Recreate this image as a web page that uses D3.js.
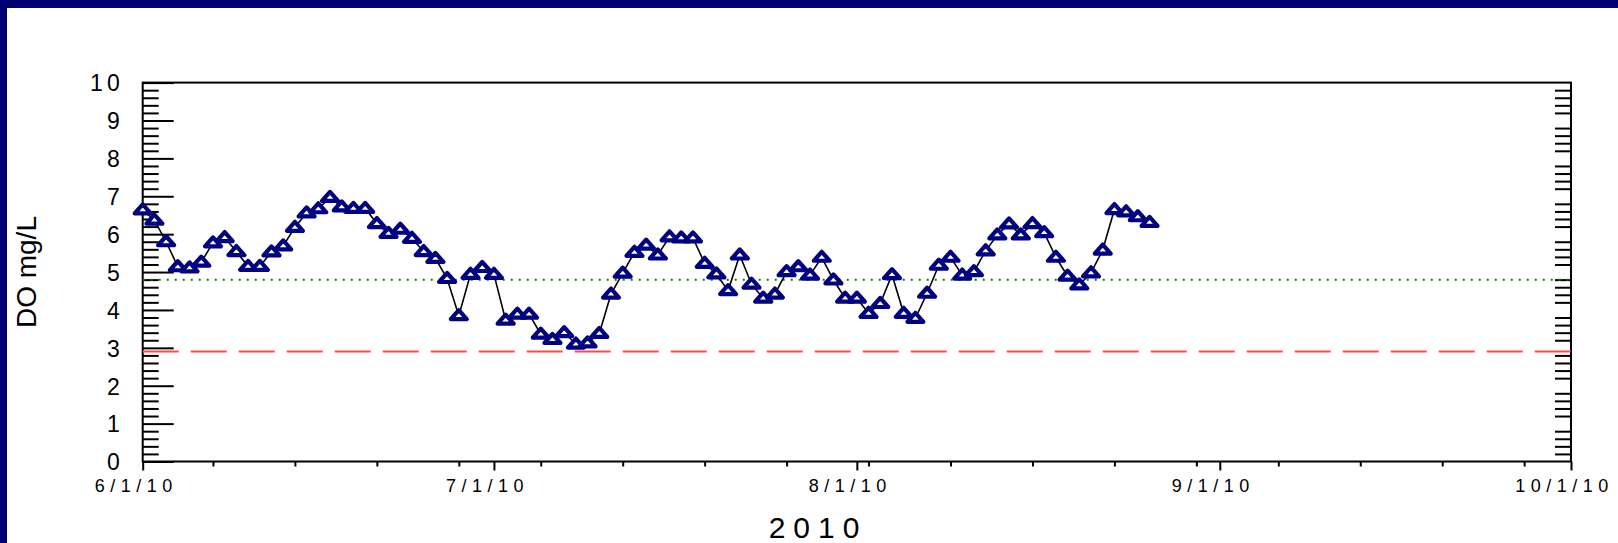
<!DOCTYPE html>
<html>
<head>
<meta charset="utf-8">
<script src="https://cdn.jsdelivr.net/npm/d3@7"></script>
<style>
  html, body { margin: 0; padding: 0; background: #fff; }
  svg { display: block; font-family: "Liberation Sans", Arial, sans-serif; }
</style>
</head>
<body>
<div id="chart"></div>
<script>
// Daily DO readings, 6/1/10 through 8/26/10
const startDate = new Date(Date.UTC(2010, 5, 1));
const endDate = new Date(Date.UTC(2010, 9, 1));
const juneDO = [6.64, 6.37, 5.80, 5.14, 5.11, 5.26, 5.77, 5.91, 5.54, 5.15,
                5.15, 5.53, 5.69, 6.18, 6.56, 6.67, 6.97, 6.72, 6.68, 6.68,
                6.28, 6.02, 6.13, 5.89, 5.54, 5.36, 4.83, 3.85, 4.94, 5.12];
const julyDO = [4.94, 3.73, 3.89, 3.89, 3.36, 3.22, 3.40, 3.10, 3.13, 3.38,
                4.42, 4.97, 5.52, 5.71, 5.45, 5.93, 5.90, 5.90, 5.23, 4.95,
                4.51, 5.45, 4.68, 4.31, 4.42, 5.01, 5.14, 4.92, 5.39, 4.79, 4.31];
const augDO = [4.31, 3.91, 4.17, 4.93, 3.91, 3.78, 4.44, 5.18, 5.39, 4.92,
               5.01, 5.56, 5.98, 6.27, 5.98, 6.28, 6.04, 5.39, 4.89, 4.66,
               4.98, 5.58, 6.65, 6.59, 6.46, 6.31];

// Reference lines
const targetDO = 4.8;   // green dotted
const minimumDO = 2.9;  // red dashed

const yTicks = [0, 1, 2, 3, 4, 5, 6, 7, 8, 9, 10];
const monthTicks = ["2010-06-01", "2010-07-01", "2010-08-01", "2010-09-01", "2010-10-01"];

const values = juneDO.concat(julyDO, augDO);
const dates = d3.utcDay.range(startDate, d3.utcDay.offset(startDate, values.length));
const data = values.map((v, i) => ({ date: dates[i], value: v }));

const W = 1618, H = 543;
const margin = { top: 82.6, right: 47, bottom: 81.5, left: 142.7 };
const width = W - margin.left - margin.right;
const height = H - margin.top - margin.bottom;

const root = d3.select("#chart").append("svg")
    .attr("width", W)
    .attr("height", H);

// navy frame on top and left
root.append("rect").attr("x", 0).attr("y", 0).attr("width", W).attr("height", 8).attr("fill", "#000070");
root.append("rect").attr("x", 0).attr("y", 0).attr("width", 7).attr("height", H).attr("fill", "#000070");

const svg = root.append("g")
    .attr("transform", `translate(${margin.left},${margin.top})`);

const x = d3.scaleUtc().domain([startDate, endDate]).range([0, width]);
const y = d3.scaleLinear().domain([0, 10]).range([height, 0]);

// minor y ticks every 0.2
const minorY = d3.range(0, 10.001, 0.2).filter(v => Math.abs(v - Math.round(v)) > 0.01);

// left axis: inward ticks
svg.append("g")
    .call(d3.axisLeft(y).tickValues(minorY).tickSize(-16).tickFormat(""))
    .call(g => g.select(".domain").remove())
    .selectAll("line").attr("stroke", "#000").attr("stroke-width", 2);

svg.append("g")
    .call(d3.axisLeft(y).tickValues(yTicks).tickSize(-31).tickPadding(25).tickFormat(d3.format("d")))
    .call(g => g.select(".domain").remove())
    .call(g => g.selectAll("line").attr("stroke", "#000").attr("stroke-width", 2))
    .call(g => g.selectAll("text")
        .attr("x", -23)
        .attr("dy", "0.36em")
        .attr("font-size", 23)
        .attr("font-family", "Liberation Sans, Arial, sans-serif")
        .attr("letter-spacing", 4)
        .attr("dx", 4)
        .attr("fill", "#000"));

// right axis: inward minor ticks
svg.append("g")
    .attr("transform", `translate(${width},0)`)
    .call(d3.axisRight(y).tickValues(minorY).tickSize(-16).tickFormat(""))
    .call(g => g.select(".domain").remove())
    .selectAll("line").attr("stroke", "#000").attr("stroke-width", 2);

// bottom axis: weekly minor ticks (Mondays) and month majors
svg.append("g")
    .attr("transform", `translate(0,${height})`)
    .call(d3.axisBottom(x).ticks(d3.utcMonday.every(1)).tickSize(5).tickFormat(""))
    .call(g => g.select(".domain").remove())
    .selectAll("line").attr("stroke", "#000").attr("stroke-width", 2);

const fmt = d3.utcFormat("%-m/%-d/%y");
const fmtLabel = d => fmt(d).replace(/\/0?(\d+)$/, (m, yy) => "/" + (+yy));
svg.append("g")
    .attr("transform", `translate(0,${height})`)
    .call(d3.axisBottom(x).tickValues(monthTicks.map(d => new Date(d + "T00:00:00Z")))
        .tickSize(9).tickPadding(20).tickFormat(fmtLabel))
    .call(g => g.select(".domain").remove())
    .call(g => g.selectAll("line").attr("stroke", "#000").attr("stroke-width", 2))
    .call(g => g.selectAll("text")
        .attr("y", 30)
        .attr("dy", 0)
        .attr("font-size", 18)
        .attr("font-family", "Liberation Sans, Arial, sans-serif")
        .attr("letter-spacing", 5.5)
        .attr("dx", -7)
        .attr("fill", "#000"));

// frame lines
svg.append("rect")
    .attr("x", 0).attr("y", 0)
    .attr("width", width).attr("height", height)
    .attr("fill", "none")
    .attr("stroke", "#000")
    .attr("stroke-width", 2);

// reference lines
svg.append("line")
    .attr("x1", 0).attr("x2", width)
    .attr("y1", y(targetDO)).attr("y2", y(targetDO))
    .attr("stroke", "#008000")
    .attr("stroke-width", 2)
    .attr("stroke-dasharray", "2,6");

svg.append("line")
    .attr("x1", 0).attr("x2", width)
    .attr("y1", y(minimumDO)).attr("y2", y(minimumDO))
    .attr("stroke", "#ff4a4a")
    .attr("stroke-width", 2)
    .attr("stroke-dasharray", "36,12");

// data line
const line = d3.line().x(d => x(d.date)).y(d => y(d.value));
svg.append("path")
    .datum(data)
    .attr("d", line)
    .attr("fill", "none")
    .attr("stroke", "#000")
    .attr("stroke-width", 1.6);

// triangle markers
svg.selectAll(".pt")
    .data(data)
    .enter()
    .append("path")
    .attr("class", "pt")
    .attr("transform", d => `translate(${x(d.date)},${y(d.value)})`)
    .attr("d", "M0,-5.5L8,3.5L-8,3.5Z")
    .attr("fill", "#fff")
    .attr("stroke", "#000080")
    .attr("stroke-width", 4.2)
    .attr("stroke-linejoin", "round");

// axis titles
root.append("text")
    .attr("transform", `translate(36,${margin.top + height / 2}) rotate(-90)`)
    .attr("text-anchor", "middle")
    .attr("font-size", 28)
    .attr("fill", "#000")
    .text("DO mg/L");

root.append("text")
    .attr("x", 818)
    .attr("y", 538)
    .attr("text-anchor", "middle")
    .attr("font-size", 30)
    .attr("letter-spacing", 8)
    .attr("fill", "#000")
    .text("2010");
</script>
</body>
</html>
